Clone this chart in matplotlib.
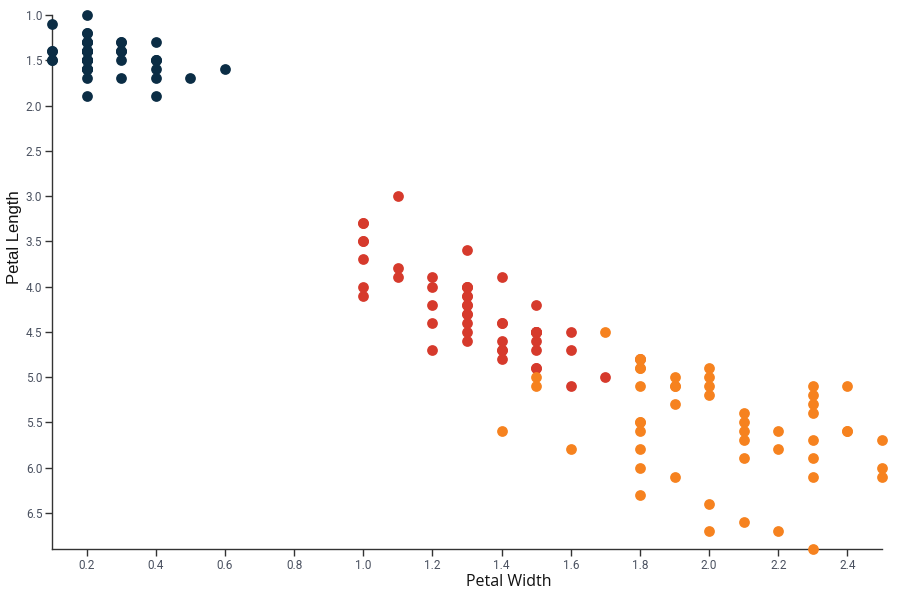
import matplotlib
matplotlib.use("Agg")
import matplotlib.pyplot as plt
import numpy as np

setosa_width = [0.2, 0.2, 0.2, 0.2, 0.2, 0.4, 0.3, 0.2, 0.2, 0.1,
                0.2, 0.2, 0.1, 0.1, 0.2, 0.4, 0.4, 0.3, 0.3, 0.3,
                0.2, 0.4, 0.2, 0.5, 0.2, 0.2, 0.4, 0.2, 0.2, 0.2,
                0.2, 0.4, 0.1, 0.2, 0.2, 0.2, 0.2, 0.1, 0.2, 0.2,
                0.3, 0.3, 0.2, 0.6, 0.4, 0.3, 0.2, 0.2, 0.2, 0.2]
setosa_length = [1.4, 1.4, 1.3, 1.5, 1.4, 1.7, 1.4, 1.5, 1.4, 1.5,
                 1.5, 1.6, 1.4, 1.1, 1.2, 1.5, 1.3, 1.4, 1.7, 1.5,
                 1.7, 1.5, 1.0, 1.7, 1.9, 1.6, 1.6, 1.5, 1.4, 1.6,
                 1.6, 1.5, 1.5, 1.4, 1.5, 1.2, 1.3, 1.4, 1.3, 1.5,
                 1.3, 1.3, 1.3, 1.6, 1.9, 1.4, 1.6, 1.4, 1.5, 1.4]

versicolor_width = [1.4, 1.5, 1.5, 1.3, 1.5, 1.3, 1.6, 1.0, 1.3, 1.4,
                    1.0, 1.5, 1.0, 1.4, 1.3, 1.4, 1.5, 1.0, 1.5, 1.1,
                    1.8, 1.3, 1.5, 1.2, 1.3, 1.4, 1.4, 1.7, 1.5, 1.0,
                    1.1, 1.0, 1.2, 1.6, 1.5, 1.6, 1.5, 1.3, 1.3, 1.3,
                    1.2, 1.4, 1.2, 1.0, 1.3, 1.2, 1.3, 1.3, 1.1, 1.3]
versicolor_length = [4.7, 4.5, 4.9, 4.0, 4.6, 4.5, 4.7, 3.3, 4.6, 3.9,
                     3.5, 4.2, 4.0, 4.7, 3.6, 4.4, 4.5, 4.1, 4.5, 3.9,
                     4.8, 4.0, 4.9, 4.7, 4.3, 4.4, 4.8, 5.0, 4.5, 3.5,
                     3.8, 3.7, 3.9, 5.1, 4.5, 4.5, 4.7, 4.4, 4.1, 4.0,
                     4.4, 4.6, 4.0, 3.3, 4.2, 4.2, 4.2, 4.3, 3.0, 4.1]

virginica_width = [2.5, 1.9, 2.1, 1.8, 2.2, 2.1, 1.7, 1.8, 1.8, 2.5,
                   2.0, 1.9, 2.1, 2.0, 2.4, 2.3, 1.8, 2.2, 2.3, 1.5,
                   2.3, 2.0, 2.0, 1.8, 2.1, 1.8, 1.8, 1.8, 2.1, 1.6,
                   1.9, 2.0, 2.2, 1.5, 1.4, 2.3, 2.4, 1.8, 1.8, 2.1,
                   2.4, 2.3, 1.9, 2.3, 2.5, 2.3, 1.9, 2.0, 2.3, 1.8]
virginica_length = [6.0, 5.1, 5.9, 5.6, 5.8, 6.6, 4.5, 6.3, 5.8, 6.1,
                    5.1, 5.3, 5.5, 5.0, 5.1, 5.3, 5.5, 6.7, 6.9, 5.0,
                    5.7, 4.9, 6.7, 4.9, 5.7, 6.0, 4.8, 4.9, 5.6, 5.8,
                    6.1, 6.4, 5.6, 5.1, 5.6, 6.1, 5.6, 5.5, 4.8, 5.4,
                    5.6, 5.1, 5.1, 5.9, 5.7, 5.2, 5.0, 5.2, 5.4, 5.1]

colors = {'setosa': '#0b2d45', 'versicolor': '#d63a2c', 'virginica': '#f6821f'}

fig = plt.figure(figsize=(9.08, 5.99), dpi=100)
ax = fig.add_axes([52 / 908, 1 - 549 / 599, 830 / 908, 534 / 599])

ax.scatter(setosa_width, setosa_length, s=60, color=colors['setosa'], linewidths=0, zorder=3, clip_on=False)
ax.scatter(versicolor_width, versicolor_length, s=60, color=colors['versicolor'], linewidths=0, zorder=3, clip_on=False)
ax.scatter(virginica_width, virginica_length, s=60, color=colors['virginica'], linewidths=0, zorder=3, clip_on=False)

ax.set_xlim(0.1, 2.5)
ax.set_ylim(6.9, 1.0)
ax.set_xticks(np.round(np.arange(0.2, 2.41, 0.2), 1))
ax.set_yticks(np.round(np.arange(1.0, 6.51, 0.5), 1))
ax.xaxis.set_major_formatter(matplotlib.ticker.FormatStrFormatter('%.1f'))
ax.yaxis.set_major_formatter(matplotlib.ticker.FormatStrFormatter('%.1f'))

for side in ['top', 'right']:
    ax.spines[side].set_visible(False)
for side in ['left', 'bottom']:
    ax.spines[side].set_color('#333333')
    ax.spines[side].set_linewidth(1)

ax.tick_params(length=5, width=1, color='#333333', labelsize=8.5, labelcolor='#4a5160', pad=2)
for lbl in ax.get_xticklabels() + ax.get_yticklabels():
    lbl.set_family('Roboto')

ax.set_xlabel('Petal Width', fontsize=11.5, family='Open Sans', color='#111111')
ax.set_ylabel('Petal Length', fontsize=12, family='Liberation Sans', color='#111111')
ax.xaxis.set_label_coords(0.5506, -0.061)
ax.yaxis.set_label_coords(-0.0446, 0.584)
ax.xaxis.label.set_va('center')
ax.yaxis.label.set_va('center')

fig.savefig('out.png', dpi=100)
